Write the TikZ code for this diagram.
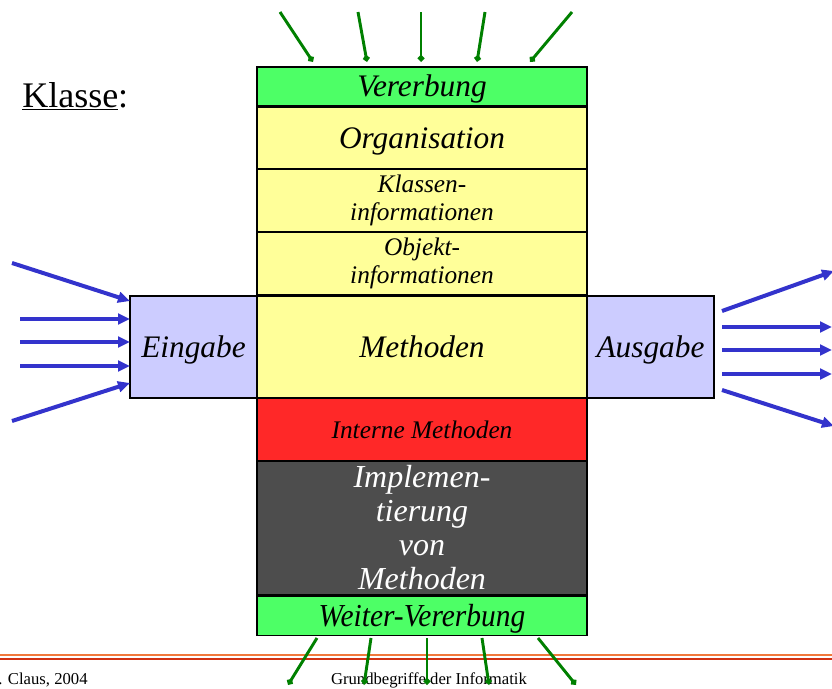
\documentclass[tikz,border=0pt]{standalone}
\usepackage{fontspec}
\setmainfont{Liberation Serif}
\usetikzlibrary{arrows.meta}
\definecolor{vgreen}{RGB}{77,255,102}
\definecolor{vyellow}{RGB}{255,255,153}
\definecolor{vlav}{RGB}{204,204,255}
\definecolor{vred}{RGB}{255,40,40}
\definecolor{vgray}{RGB}{77,77,77}
\definecolor{ablue}{RGB}{51,51,204}
\definecolor{agreen}{RGB}{0,128,0}
\definecolor{lineorange}{RGB}{240,120,60}
\definecolor{linered}{RGB}{210,50,20}
\tikzset{
  layer/.style={draw=black, line width=0.9pt, minimum width=247.5pt, inner sep=0pt, align=center, font=\itshape},
  oneline/.style={text height=#1, text depth=0pt},
  bigtext/.style={oneline=15.5pt, font=\itshape\fontsize{23.5}{27}\selectfont},
  sidebox/.style={draw=black, line width=0.9pt, fill=vlav, minimum width=95.25pt, minimum height=76.5pt, inner sep=0pt, bigtext},
  barrow/.style={draw=ablue, line width=3pt, -{Triangle[length=9pt,width=8pt]}},
  garrow/.style={draw=agreen, line width=2.2pt, -{Turned Square[length=5.5pt,width=5.5pt]}},
}
\begin{document}
\begin{tikzpicture}[x=0.75pt,y=-0.75pt]
\useasboundingbox (0,0) rectangle (832,689);
% layers
\node[layer, bigtext, fill=vgreen, minimum height=29.25pt] (ver) at (422,86.5) {Vererbung};
\node[layer, bigtext, fill=vyellow, minimum height=47.25pt] (org) at (422,138.5) {Organisation};
\node[layer, fill=vyellow, minimum height=47.25pt, font=\itshape\fontsize{19}{21}\selectfont] (kla) at (422,200.5) {\raisebox{-3.6pt}{\begin{tabular}{@{}c@{}}Klassen-\\[0pt]informationen\end{tabular}}};
\node[layer, fill=vyellow, minimum height=47.25pt, font=\itshape\fontsize{19}{21}\selectfont] (obj) at (422,263.5) {\raisebox{-3.6pt}{\begin{tabular}{@{}c@{}}Objekt-\\[0pt]informationen\end{tabular}}};
\node[layer, bigtext, fill=vyellow, minimum height=76.5pt] (met) at (422,347) {Methoden};
\node[layer, oneline=12.5pt, fill=vred, minimum height=48pt, font=\itshape\fontsize{19}{20}\selectfont] (int) at (422,430) {Interne Methoden};
\node[layer, fill=vgray, minimum height=100.5pt, text=white, font=\itshape\fontsize{24}{25.5}\selectfont] (imp) at (422,528) {Implemen-\\tierung\\von\\Methoden};
\node[layer, oneline=16pt, fill=vgreen, minimum height=29.25pt, font=\itshape\fontsize{24}{27}\selectfont] (wei) at (422,616) {\scalebox{0.92}[1]{Weiter-Vererbung}};
% side boxes
\node[sidebox] (ein) at (193.5,347) {Eingabe};
\node[sidebox] (aus) at (650.5,347) {Ausgabe};
% title
\node[anchor=base west, inner sep=0pt, font=\fontsize{27}{30}\selectfont] (kl) at (22,107) {\underline{Klasse}:};
% footer
\draw[lineorange, line width=1pt] (0,655) -- (832,655);
\draw[linered, line width=1.5pt] (0,658.5) -- (832,658.5);
\node[anchor=base west, inner sep=0pt, font=\fontsize{12.5}{14}\selectfont] (f1) at (-2,684) {. Claus, 2004};
\node[anchor=base, inner sep=0pt, font=\fontsize{12.5}{14}\selectfont] (f2) at (429,684) {Grundbegriffe der Informatik};
% top arrows
\foreach \i/\sx/\ex in {1/280/313, 2/358/367, 3/421/421, 4/485/477, 5/572/530}{
  \coordinate (ts\i) at (\sx,12);
  \coordinate (te\i) at (\ex,62);
  \draw[garrow] (ts\i) -- (te\i);
}
% bottom arrows
\foreach \i/\sx/\ex in {1/317/288, 2/371/364, 3/427/427, 4/482/489, 5/538/576}{
  \coordinate (bs\i) at (\sx,638);
  \coordinate (be\i) at (\ex,685);
  \draw[garrow] (bs\i) -- (be\i);
}
% left arrows
\coordinate (ls1) at (12,263); \coordinate (le1) at (130,301);
\coordinate (ls2) at (20,319); \coordinate (le2) at (130,319);
\coordinate (ls3) at (20,342); \coordinate (le3) at (130,342);
\coordinate (ls4) at (20,366); \coordinate (le4) at (130,366);
\coordinate (ls5) at (12,421); \coordinate (le5) at (130,383);
\foreach \i in {1,...,5}{\draw[barrow] (ls\i) -- (le\i);}
% right arrows
\coordinate (rs1) at (722,311); \coordinate (re1) at (834,271);
\coordinate (rs2) at (722,327); \coordinate (re2) at (832,327);
\coordinate (rs3) at (722,350); \coordinate (re3) at (832,350);
\coordinate (rs4) at (722,374); \coordinate (re4) at (832,374);
\coordinate (rs5) at (722,390); \coordinate (re5) at (834,426);
\foreach \i in {1,...,5}{\draw[barrow] (rs\i) -- (re\i);}
\end{tikzpicture}
\end{document}
